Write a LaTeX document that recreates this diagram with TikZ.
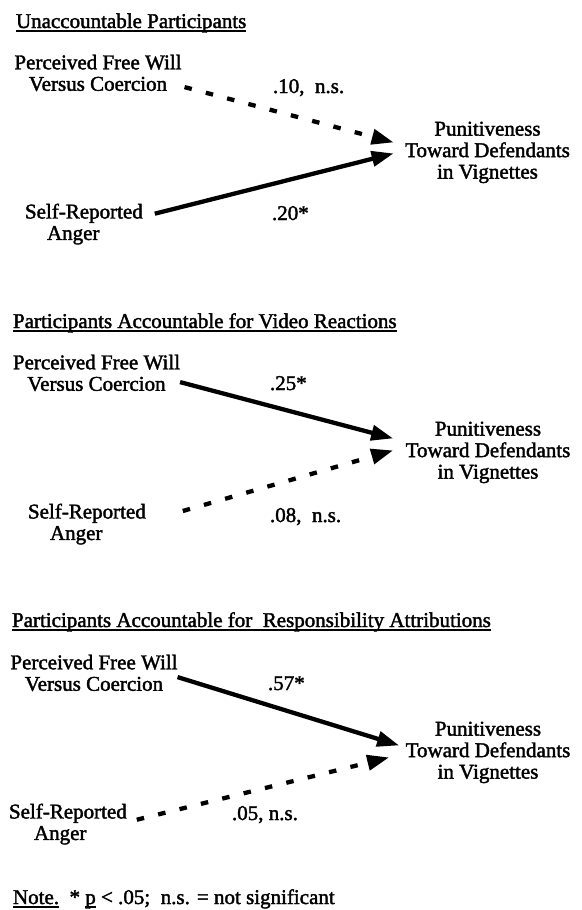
\documentclass[tikz,border=0pt]{standalone}
\usepackage{fontspec}
\newfontfamily\scanfont{Liberation Serif}[FakeBold=1.8]
\usetikzlibrary{arrows.meta,calc}
\newcommand\myul[1]{\setbox0\hbox{#1}\rlap{\rule[-4pt]{\wd0}{1.8pt}}#1}
\begin{document}
\begin{tikzpicture}[x=1pt,y=-1pt,
  txt/.style={font=\scanfont\fontsize{21}{21.5}\selectfont, inner sep=0pt, outer sep=0pt},
  title/.style={txt, anchor=base west},
  lab/.style={txt, anchor=base west},
  blk/.style={txt, align=center, anchor=north},
  blkl/.style={txt, align=left, anchor=north west},
  solidarrow/.style={line width=4.3pt, -{Triangle[length=22pt,width=15pt]}},
  dasharrow/.style={solidarrow, line width=4.3pt, dash pattern=on 7.5pt off 14.5pt}
]
\useasboundingbox[fill=white] (0,0) rectangle (581,910);

% ---------- Section 1 ----------
\node[title] (t1) at (16,28) {\myul{Unaccountable Participants}};
\node[blk] (p1) at (98,54.7) {Perceived Free Will\\Versus Coercion};
\node[blkl] (s1) at (25,203.7) {Self-Reported\\\hspace*{22pt}Anger};
\node[blk] (d1) at (487.5,121.7) {Punitiveness\\Toward Defendants\\in Vignettes};
\node[lab] (l1a) at (273,93) {.10,\ \ n.s.};
\node[lab] (l1b) at (272,220) {.20*};
\draw[dasharrow] ($(p1.south east)+(3,-4)$) -- ($(d1.west)+(-11.5,-10)$);
\draw[solidarrow] ($(s1.north east)+(12,10)$) -- ($(d1.west)+(-11.5,1)$);

% ---------- Section 2 ----------
\node[title] (t2) at (13,328) {\myul{Participants Accountable for Video Reactions}};
\node[blk] (p2) at (96.5,354.7) {Perceived Free Will\\Versus Coercion};
\node[blkl] (s2) at (28,503.7) {Self-Reported\\\hspace*{22pt}Anger};
\node[blk] (d2) at (488,421.7) {Punitiveness\\Toward Defendants\\in Vignettes};
\node[lab] (l2a) at (270,390) {.25*};
\node[lab] (l2b) at (270,522) {.08,\ \ n.s.};
\draw[solidarrow] ($(p2.south east)+(0,-9)$) -- ($(d2.west)+(-12.5,-14)$);
\draw[dasharrow] ($(s2.north east)+(37,7.3)$) -- ($(d2.west)+(-12.5,-2)$);

% ---------- Section 3 ----------
\node[title] (t3) at (12,627) {\myul{Participants Accountable for\ \ Responsibility Attributions}};
\node[blk] (p3) at (94,654.7) {Perceived Free Will\\Versus Coercion};
\node[blkl] (s3) at (9,803.7) {Self-Reported\\\hspace*{25pt}Anger};
\node[blk] (d3) at (488,721.7) {Punitiveness\\Toward Defendants\\in Vignettes};
\node[lab] (l3a) at (268,690) {.57*};
\node[lab] (l3b) at (232,820) {.05, n.s.};
\draw[solidarrow] ($(p3.south east)+(0,-14)$) -- ($(d3.west)+(-6.5,-7)$);
\draw[dasharrow] ($(s3.north east)+(10,16)$) -- ($(d3.west)+(-16.5,5)$);

% ---------- Note ----------
\node[lab] (note) at (13,904) {\myul{Note.}\ \ * \myul{p} < .05;\ \ n.s. = not significant};
\end{tikzpicture}
\end{document}
